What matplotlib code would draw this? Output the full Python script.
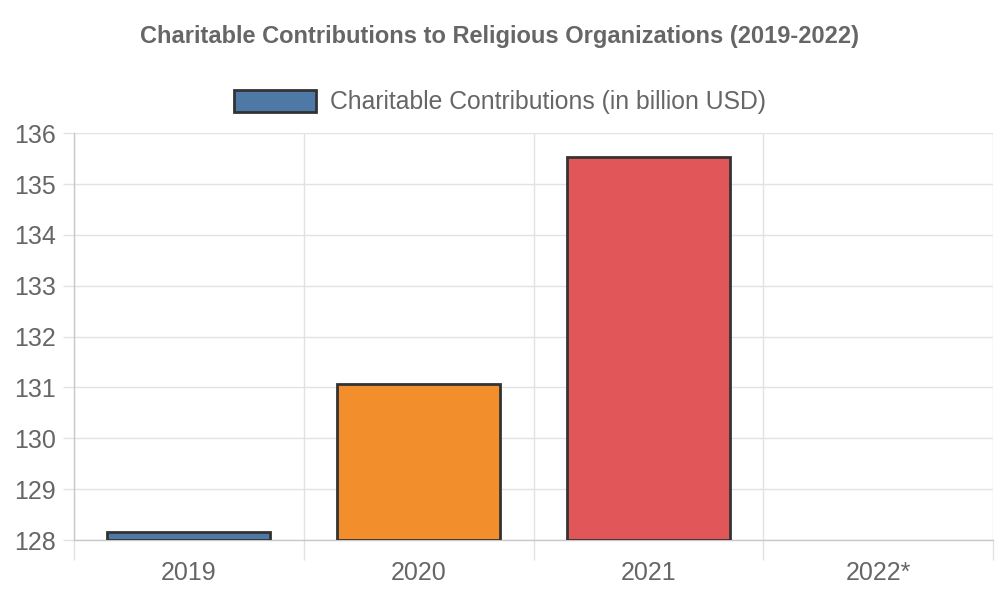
import numpy as np
import matplotlib.pyplot as plt
from matplotlib.patches import Patch

plt.rcParams['font.family'] = ['Liberation Sans', 'DejaVu Sans']

# データ
years = ['2019', '2020', '2021', '2022*']
contributions = [128.16, 131.06, 135.53, np.nan]  # 2022 は未公表
bar_colors = ['#4e79a7', '#f28e2b', '#e15759', '#76b7b2']
series_label = 'Charitable Contributions (in billion USD)'

fig = plt.figure(figsize=(10, 6), dpi=100)
ax = fig.add_axes([0.074, 0.1, 0.919, 0.678])

x = np.arange(len(years))
vals = np.array(contributions, dtype=float)
ax.bar(x, vals - 128, bottom=128, width=0.71, color=bar_colors,
       edgecolor='#333333', linewidth=2, zorder=3)

ax.set_xlim(-0.5, len(years) - 0.5)
ax.set_ylim(128, 136)
ax.set_yticks(np.arange(128, 137, 1))
ax.set_xticks(x)
ax.set_xticklabels(years)
ax.set_xticks(np.arange(-0.5, len(years), 1), minor=True)

grid_c = '#e2e2e2'
ax.grid(True, axis='y', color=grid_c, linewidth=1, zorder=0)
ax.grid(True, axis='x', which='minor', color=grid_c, linewidth=1, zorder=0)
ax.tick_params(axis='x', which='major', length=0, pad=15, labelsize=18, labelcolor='#666666')
ax.tick_params(axis='x', which='minor', length=14.4, color=grid_c, width=1)
ax.tick_params(axis='y', length=8, color=grid_c, width=1, labelsize=18, labelcolor='#666666', pad=5)

for s in ['top', 'right']:
    ax.spines[s].set_visible(False)
for s in ['left', 'bottom']:
    ax.spines[s].set_color('#c8c8c8')
    ax.spines[s].set_linewidth(1)

fig.text(0.5, 0.94, 'Charitable Contributions to Religious Organizations (2019-2022)',
         ha='center', va='center', fontsize=17, fontweight='bold', color='#666666')

handle = Patch(facecolor=bar_colors[0], edgecolor='#333333', linewidth=2)
fig.legend([handle], [series_label], loc='center', bbox_to_anchor=(0.5, 0.83),
           frameon=False, fontsize=17.8, handlelength=3.3, handleheight=1.0,
           handletextpad=0.55, labelcolor='#666666')

plt.savefig('out.png', dpi=100)
